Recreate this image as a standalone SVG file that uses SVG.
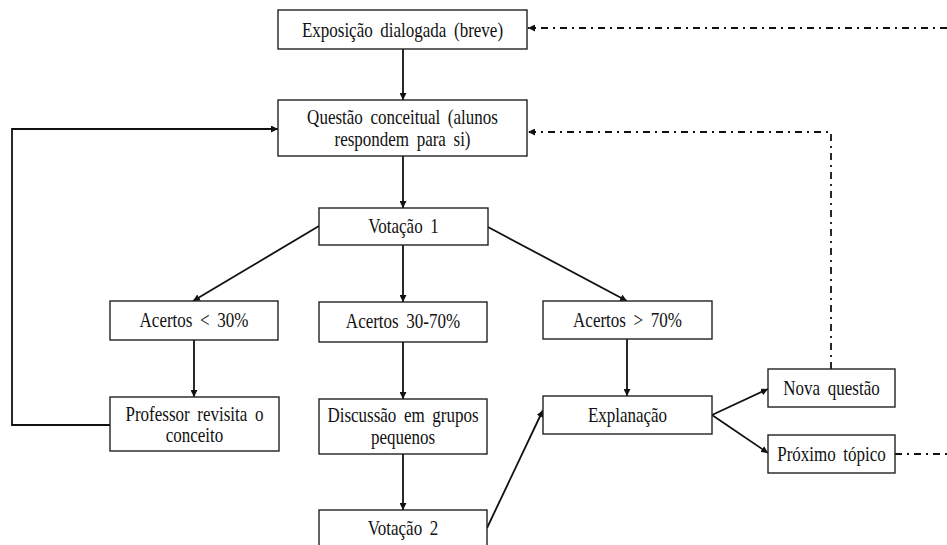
<svg xmlns="http://www.w3.org/2000/svg" width="947" height="545" viewBox="0 0 947 545">
<style>
.box rect{fill:#fff;stroke:#222;stroke-width:1.4}
.box text{font-family:'Liberation Serif','Times New Roman',serif;font-size:20px;fill:#111;text-anchor:middle;word-spacing:4px}
.c{fill:none;stroke:#111;stroke-width:1.8}
.d{fill:none;stroke:#111;stroke-width:1.8;stroke-dasharray:7 5 2 5}
</style>
<defs>
<marker id="a" viewBox="0 0 10 10" refX="10" refY="5" markerWidth="7" markerHeight="7" orient="auto" markerUnits="userSpaceOnUse"><path d="M0,0 L10,5 L0,10 z" fill="#111"/></marker>
</defs>
<g id="connectors">
<path class="c" d="M403,49 V100" marker-end="url(#a)"/>
<path class="c" d="M403,156 V208" marker-end="url(#a)"/>
<path class="c" d="M319,226 L193,301" marker-end="url(#a)"/>
<path class="c" d="M403,245 V302" marker-end="url(#a)"/>
<path class="c" d="M488,227 L627,301" marker-end="url(#a)"/>
<path class="c" d="M194,340 V397" marker-end="url(#a)"/>
<path class="c" d="M403,342 V399" marker-end="url(#a)"/>
<path class="c" d="M403,454 V510" marker-end="url(#a)"/>
<path class="c" d="M627,339 V396" marker-end="url(#a)"/>
<path class="c" d="M487,528 L543,410" marker-end="url(#a)"/>
<path class="c" d="M712,415 L768,389" marker-end="url(#a)"/>
<path class="c" d="M712,415 L768,453" marker-end="url(#a)"/>
<path class="c" d="M110,425 H12 V129 H278" marker-end="url(#a)"/>
<path class="d" d="M947,28 H528" marker-end="url(#a)"/>
<path class="d" d="M831,369 V132 H528" marker-end="url(#a)"/>
<path class="d" d="M895,454 H947"/>
</g>
<g id="exposicao" class="box"><rect x="278" y="10" width="249" height="39"/><text transform="translate(402.5,37) scale(0.85,1)">Exposição dialogada (breve)</text></g>
<g id="questao" class="box"><rect x="278" y="100" width="249" height="56"/><text transform="translate(402.5,124) scale(0.85,1)">Questão conceitual (alunos</text><text transform="translate(402.5,146) scale(0.85,1)">respondem para si)</text></g>
<g id="votacao1" class="box"><rect x="319" y="208" width="169" height="37"/><text transform="translate(403.5,233) scale(0.85,1)">Votação 1</text></g>
<g id="acertos30" class="box"><rect x="110" y="301" width="168" height="39"/><text transform="translate(194,327) scale(0.85,1)">Acertos &lt; 30%</text></g>
<g id="acertos3070" class="box"><rect x="319" y="302" width="168" height="40"/><text transform="translate(403,328) scale(0.85,1)">Acertos 30-70%</text></g>
<g id="acertos70" class="box"><rect x="543" y="301" width="169" height="38"/><text transform="translate(627.5,327) scale(0.85,1)">Acertos &gt; 70%</text></g>
<g id="professor" class="box"><rect x="110" y="397" width="169" height="54"/><text transform="translate(194.5,421) scale(0.85,1)">Professor revisita o</text><text transform="translate(194.5,442) scale(0.85,1)">conceito</text></g>
<g id="discussao" class="box"><rect x="319" y="399" width="168" height="55"/><text transform="translate(403,422) scale(0.85,1)">Discussão em grupos</text><text transform="translate(403,444) scale(0.85,1)">pequenos</text></g>
<g id="votacao2" class="box"><rect x="319" y="510" width="168" height="40"/><text transform="translate(403,535) scale(0.85,1)">Votação 2</text></g>
<g id="explanacao" class="box"><rect x="543" y="396" width="169" height="38"/><text transform="translate(627.5,422) scale(0.85,1)">Explanação</text></g>
<g id="novaquestao" class="box"><rect x="768" y="369" width="127" height="38"/><text transform="translate(831.5,395) scale(0.85,1)">Nova questão</text></g>
<g id="proximo" class="box"><rect x="768" y="435" width="127" height="38"/><text transform="translate(831.5,461) scale(0.85,1)">Próximo tópico</text></g>
</svg>
